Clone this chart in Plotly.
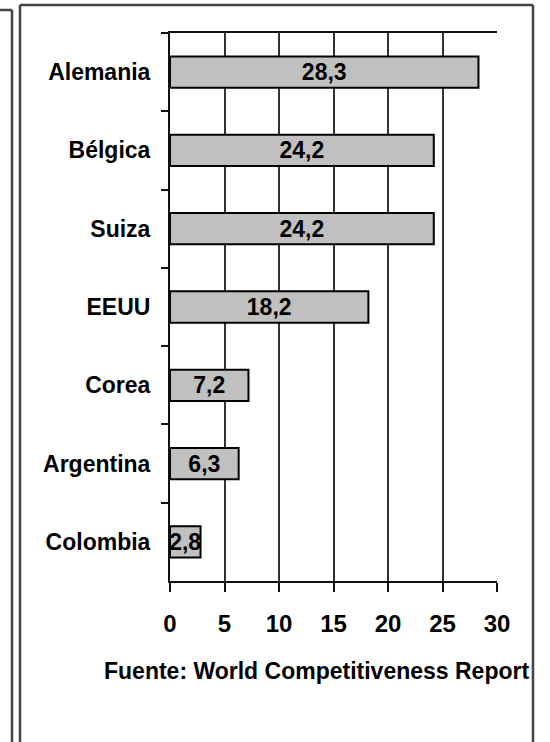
import plotly.graph_objects as go

# Datos
paises = ["Alemania", "Bélgica", "Suiza", "EEUU", "Corea", "Argentina", "Colombia"]
valores = [28.3, 24.2, 24.2, 18.2, 7.2, 6.3, 2.8]
ticks_x = [0, 5, 10, 15, 20, 25, 30]
fuente = "Fuente: World Competitiveness Report"

W, H = 550, 742
PL, PR, PT, PB = 170, 497, 33, 581  # plot area in pixels

FONT = "Liberation Sans Narrow, Arial Narrow, Liberation Sans, Arial, sans-serif"


def px(x):
    return (x - PL) / (PR - PL)


def py(y):
    return (PB - y) / (PB - PT)


def fnt(size):
    return dict(family=FONT, size=size, color="#000000", weight="bold")


etiquetas = [f"{v:.1f}".replace(".", ",") for v in valores]

fig = go.Figure(
    go.Bar(
        x=valores,
        y=paises,
        orientation="h",
        marker=dict(color="#c0c0c0", line=dict(color="#000000", width=2)),
        text=etiquetas,
        textposition="inside",
        insidetextanchor="middle",
        textangle=0,
        constraintext="none",
        textfont=fnt(23),
        cliponaxis=False,
    )
)

fig.update_layout(
    width=W,
    height=H,
    margin=dict(l=PL, r=W - PR, t=PT, b=H - PB),
    paper_bgcolor="white",
    plot_bgcolor="white",
    bargap=0.6,
    showlegend=False,
    font=dict(family=FONT, color="#000000"),
)

fig.update_xaxes(
    range=[0, 30],
    tickvals=ticks_x,
    ticktext=[str(t) for t in ticks_x],
    showgrid=True,
    gridcolor="#333333",
    gridwidth=2,
    zeroline=False,
    showline=True,
    linecolor="#111111",
    linewidth=2,
    mirror=True,
    ticks="outside",
    ticklen=9,
    tickwidth=2,
    tickcolor="#111111",
    ticklabelstandoff=11,
    tickfont=fnt(24),
)

fig.update_yaxes(
    categoryorder="array",
    categoryarray=paises,
    autorange="reversed",
    showgrid=False,
    showline=True,
    linecolor="#111111",
    linewidth=2,
    mirror=False,
    ticks="outside",
    tickson="boundaries",
    ticklen=7,
    tickwidth=2,
    tickcolor="#111111",
    ticklabelstandoff=13,
    tickfont=fnt(23),
)

# Source note below the axis
fig.add_annotation(
    text=fuente,
    xref="paper",
    yref="paper",
    x=px(316),
    y=py(671),
    xanchor="center",
    yanchor="middle",
    showarrow=False,
    font=fnt(23),
)

# Frame lines around the chart
frame = dict(color="#444444", width=2.5)
for x0, y0, x1, y1 in [
    (20, 5, 533, 5),
    (20, 5, 20, 760),
    (533, 5, 533, 760),
    (12, 10, 12, 760),
    (-5, 10, 12, 10),
]:
    fig.add_shape(
        type="line",
        xref="paper",
        yref="paper",
        x0=px(x0),
        y0=py(y0),
        x1=px(x1),
        y1=py(y1),
        line=frame,
        layer="above",
    )

fig.write_html("out.html")
